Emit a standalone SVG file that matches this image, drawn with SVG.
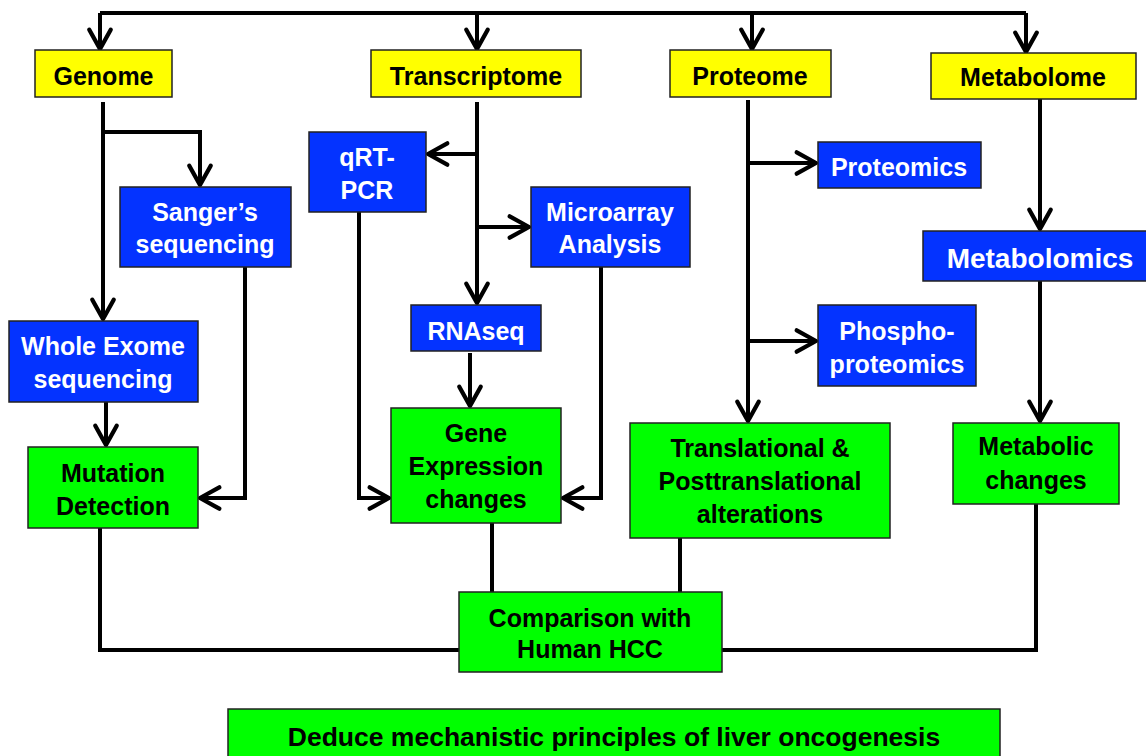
<svg xmlns="http://www.w3.org/2000/svg" width="1146" height="756" viewBox="0 0 1146 756">
<defs>
<style>
.y{fill:#ffff00;stroke:#222;stroke-width:1.5}
.b{fill:#0433ff;stroke:#222;stroke-width:1.5}
.g{fill:#00ff00;stroke:#222;stroke-width:1.5}
text{font-family:"Liberation Sans",Arial,sans-serif;font-weight:bold;font-size:25px;text-anchor:middle}
.dk{fill:#000}
.wt{fill:#fff}
.ln{fill:none;stroke:#000;stroke-width:4;stroke-linejoin:miter}
.ar{marker-end:url(#ah)}
</style>
<marker id="ah" markerUnits="userSpaceOnUse" markerWidth="30" markerHeight="30" viewBox="-22 -14 26 28" refX="0" refY="0" orient="auto" overflow="visible">
<path d="M-18,-10 L0,0 L-18,10" fill="none" stroke="#000" stroke-width="4" stroke-linecap="round" stroke-linejoin="round"/>
</marker>
</defs>

<g id="connectors">
<path class="ln" d="M100,13 H1026"/>
<path class="ln ar" d="M100,13 V49"/>
<path class="ln ar" d="M477,13 V49"/>
<path class="ln ar" d="M752,13 V49"/>
<path class="ln ar" d="M1026,13 V52"/>
<path class="ln ar" d="M103,102 V319"/>
<path class="ln ar" d="M103,132 H200 V185"/>
<path class="ln ar" d="M106,402 V445"/>
<path class="ln ar" d="M245,267 V498 H200"/>
<path class="ln ar" d="M477,102 V303"/>
<path class="ln ar" d="M477,154 H428"/>
<path class="ln ar" d="M475,227 H529"/>
<path class="ln ar" d="M359,212 V498 H389"/>
<path class="ln ar" d="M470,353 V406"/>
<path class="ln ar" d="M601,267 V498 H563"/>
<path class="ln ar" d="M748,100 V421"/>
<path class="ln ar" d="M750,163 H816"/>
<path class="ln ar" d="M750,341 H816"/>
<path class="ln ar" d="M1040,99 V229"/>
<path class="ln ar" d="M1040,281 V421"/>
<path class="ln" d="M100,528 V650 H459"/>
<path class="ln" d="M1036,504 V650 H722"/>
<path class="ln" d="M492,523 V592"/>
<path class="ln" d="M680,538 V592"/>
</g>

<g id="genome"><rect class="y" x="35" y="50" width="137" height="47"/><text class="dk" x="103.5" y="85">Genome</text></g>
<g id="transcriptome"><rect class="y" x="371" y="50" width="210" height="47"/><text class="dk" x="476" y="85">Transcriptome</text></g>
<g id="proteome"><rect class="y" x="670" y="50" width="161" height="47"/><text class="dk" x="750" y="85">Proteome</text></g>
<g id="metabolome"><rect class="y" x="931" y="53" width="205" height="46"/><text class="dk" x="1033" y="86">Metabolome</text></g>

<g id="qrtpcr"><rect class="b" x="309" y="132" width="117" height="80"/><text class="wt" x="367"><tspan x="367" y="166">qRT-</tspan><tspan x="367" y="199">PCR</tspan></text></g>
<g id="sanger"><rect class="b" x="120" y="187" width="171" height="80"/><text class="wt"><tspan x="205" y="221">Sanger’s</tspan><tspan x="205" y="253">sequencing</tspan></text></g>
<g id="microarray"><rect class="b" x="531" y="187" width="159" height="80"/><text class="wt"><tspan x="610" y="221">Microarray</tspan><tspan x="610" y="253">Analysis</tspan></text></g>
<g id="proteomics"><rect class="b" x="818" y="142" width="163" height="46"/><text class="wt" x="899" y="176">Proteomics</text></g>
<g id="metabolomics"><rect class="b" x="923" y="231" width="226" height="50"/><text class="wt" x="1040" y="268" style="font-size:28px">Metabolomics</text></g>
<g id="rnaseq"><rect class="b" x="411" y="305" width="130" height="46"/><text class="wt" x="476" y="340">RNAseq</text></g>
<g id="wholeexome"><rect class="b" x="9" y="321" width="189" height="81"/><text class="wt"><tspan x="103" y="355">Whole Exome</tspan><tspan x="103" y="388">sequencing</tspan></text></g>
<g id="phospho"><rect class="b" x="818" y="305" width="158" height="81"/><text class="wt"><tspan x="897" y="340">Phospho-</tspan><tspan x="897" y="373">proteomics</tspan></text></g>

<g id="mutation"><rect class="g" x="28" y="447" width="170" height="81"/><text class="dk"><tspan x="113" y="482">Mutation</tspan><tspan x="113" y="515">Detection</tspan></text></g>
<g id="geneexpression"><rect class="g" x="391" y="408" width="170" height="115"/><text class="dk"><tspan x="476" y="442">Gene</tspan><tspan x="476" y="475">Expression</tspan><tspan x="476" y="508">changes</tspan></text></g>
<g id="translational"><rect class="g" x="630" y="423" width="260" height="115"/><text class="dk"><tspan x="760" y="457">Translational &amp;</tspan><tspan x="760" y="490">Posttranslational</tspan><tspan x="760" y="523">alterations</tspan></text></g>
<g id="metabolic"><rect class="g" x="953" y="423" width="166" height="81"/><text class="dk"><tspan x="1036" y="455">Metabolic</tspan><tspan x="1036" y="489">changes</tspan></text></g>
<g id="comparison"><rect class="g" x="459" y="592" width="263" height="80"/><text class="dk"><tspan x="590" y="627">Comparison with</tspan><tspan x="590" y="658">Human HCC</tspan></text></g>
<g id="deduce"><rect class="g" x="228" y="709" width="772" height="52"/><text class="dk" x="614" y="746" style="font-size:26.5px">Deduce mechanistic principles of liver oncogenesis</text></g>
</svg>
